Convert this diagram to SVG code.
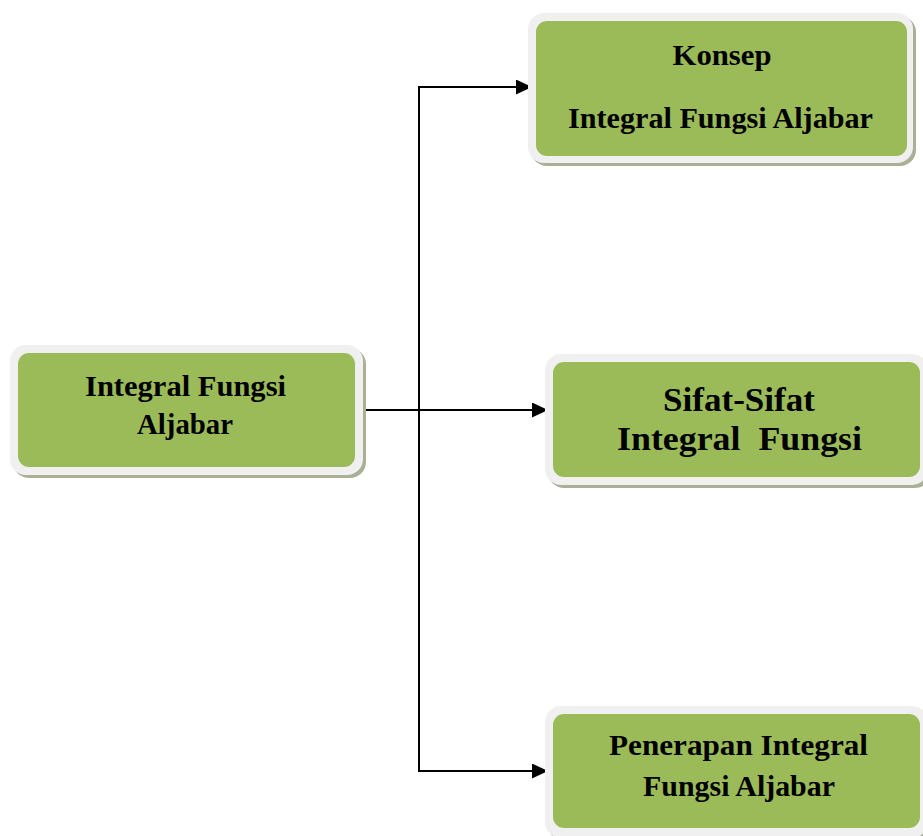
<svg xmlns="http://www.w3.org/2000/svg" width="923" height="836" viewBox="0 0 923 836">
<defs>
<marker id="arr" markerUnits="userSpaceOnUse" markerWidth="17" markerHeight="15" refX="16" refY="7.5" orient="auto">
<path d="M0,0 L16,7.5 L0,15 Z" fill="#000"/>
</marker>
</defs>
<style>
.sh{fill:#a9b095}
.bd{fill:#f0f0f0}
.gr{fill:#9bbb59}
.t{font-family:"Liberation Serif","Times New Roman",serif;font-weight:bold;fill:#000;text-anchor:middle}
.s27{font-size:29px}
.s32{font-size:34px}
.ln{fill:none;stroke:#000;stroke-width:2}
</style>
<rect x="0" y="0" width="923" height="836" fill="#fff"/>
<g id="connectors">
<path class="ln" d="M419,87 V771"/>
<path class="ln" d="M418,87 H532" marker-end="url(#arr)"/>
<path class="ln" d="M418,771 H548" marker-end="url(#arr)"/>
<path class="ln" d="M358,410 H548" marker-end="url(#arr)"/>
</g>
<g id="node-main">
<rect class="sh" x="13" y="348" width="353" height="130" rx="16"/>
<rect class="bd" x="10" y="345" width="353" height="130" rx="16"/>
<rect class="gr" x="18" y="353" width="337" height="114" rx="11"/>
<text class="t s27" x="185.5" y="396" textLength="201" lengthAdjust="spacingAndGlyphs">Integral Fungsi</text>
<text class="t s27" x="185" y="434" textLength="96" lengthAdjust="spacingAndGlyphs">Aljabar</text>
</g>
<g id="node-konsep">
<rect class="sh" x="531" y="16" width="385" height="150" rx="16"/>
<rect class="bd" x="528" y="13" width="385" height="150" rx="16"/>
<rect class="gr" x="536" y="21" width="371" height="135" rx="11"/>
<text class="t s27" x="722" y="65" textLength="99" lengthAdjust="spacingAndGlyphs">Konsep</text>
<text class="t s27" x="720.5" y="128" textLength="305" lengthAdjust="spacingAndGlyphs">Integral Fungsi Aljabar</text>
</g>
<g id="node-sifat">
<rect class="sh" x="548" y="357" width="383" height="131" rx="16"/>
<rect class="bd" x="545" y="354" width="383" height="131" rx="16"/>
<rect class="gr" x="553" y="362" width="367" height="115" rx="11"/>
<text class="t s32" x="739" y="411" textLength="152" lengthAdjust="spacingAndGlyphs">Sifat-Sifat</text>
<text class="t s32" x="739.5" y="450" textLength="245" lengthAdjust="spacingAndGlyphs" style="white-space:pre">Integral  Fungsi</text>
</g>
<g id="node-penerapan">
<rect class="sh" x="548" y="709" width="383" height="132" rx="16"/>
<rect class="bd" x="545" y="706" width="383" height="132" rx="16"/>
<rect class="gr" x="553" y="714" width="367" height="114" rx="11"/>
<text class="t s27" x="738.5" y="755" textLength="259" lengthAdjust="spacingAndGlyphs">Penerapan Integral</text>
<text class="t s27" x="739" y="796" textLength="192" lengthAdjust="spacingAndGlyphs">Fungsi Aljabar</text>
</g>
</svg>
